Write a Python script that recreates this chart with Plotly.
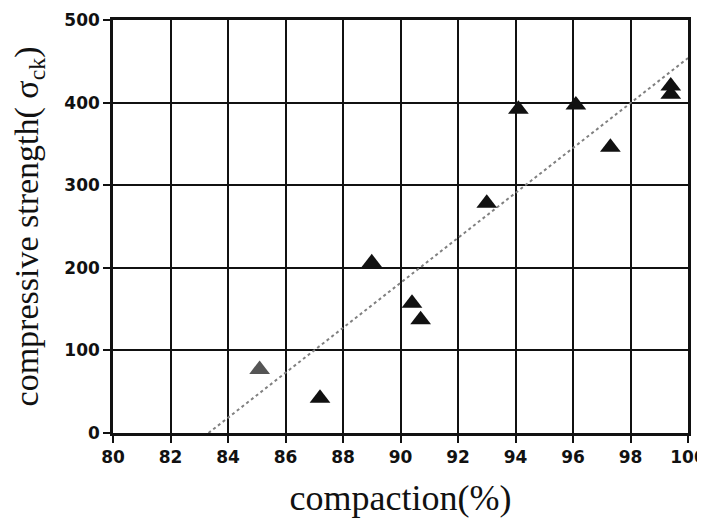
import numpy as np
import plotly.graph_objects as go

compaction = [85.1, 87.2, 89.0, 90.4, 90.7, 93.0, 94.1, 96.1, 97.3, 99.4, 99.4]
strength = [77, 42, 206, 157, 137, 278, 392, 397, 346, 410, 420]
marker_colors = ["#555555"] + ["#111111"] * 10

x_ticks = list(range(80, 101, 2))
y_ticks = list(range(0, 501, 100))

slope, intercept = np.polyfit(compaction, strength, 1)
x0 = -intercept / slope
fit_x = [x0, 100]
fit_y = [slope * v + intercept for v in fit_x]

fig = go.Figure()
fig.add_trace(go.Scatter(x=fit_x, y=fit_y, mode="lines",
                         line=dict(color="#808080", width=2, dash="dot"),
                         showlegend=False, hoverinfo="skip"))
fig.add_trace(go.Scatter(x=compaction, y=strength, mode="markers",
                         marker=dict(symbol="triangle-up", size=18, color=marker_colors,
                                     line=dict(width=0)),
                         showlegend=False))

axis_common = dict(showgrid=True, gridcolor="#111111", gridwidth=1.5,
                   showline=True, linecolor="#111111", linewidth=2.5, mirror=True,
                   ticks="outside", ticklen=7, tickwidth=1.5, tickcolor="#111111",
                   zeroline=False, automargin=False, ticklabeloverflow="allow",
                   tickfont=dict(family="DejaVu Sans", size=17, color="#111111", weight="bold"))

fig.update_xaxes(range=[80, 100], tickvals=x_ticks, **axis_common,
                 title=dict(text="compaction(%)", standoff=20,
                            font=dict(family="Liberation Serif", size=36, color="#111111")))
fig.update_yaxes(range=[0, 500], tickvals=y_ticks, **axis_common,
                 title=dict(text="compressive strength( σ<sub>ck</sub>)", standoff=22,
                            font=dict(family="Liberation Serif", size=34, color="#111111")))

# page body adds an 8px offset; figure sized so the plot lands where the reference has it
fig.update_layout(width=697, height=510, margin=dict(l=105, r=17, t=12, b=85),
                  plot_bgcolor="white", paper_bgcolor="white")

fig.write_html("out.html")
